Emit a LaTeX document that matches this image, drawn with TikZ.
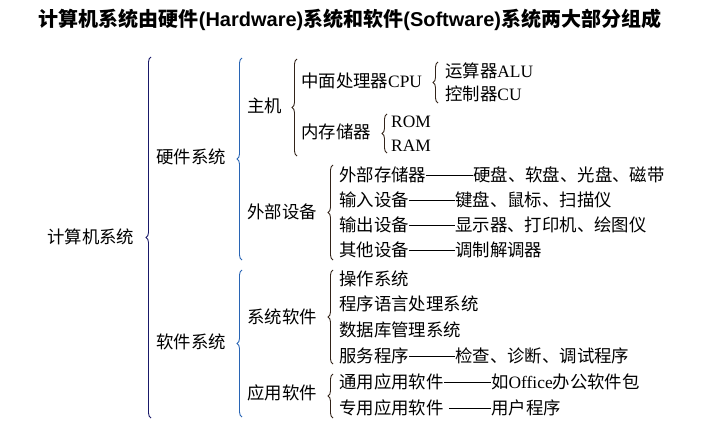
\documentclass[tikz,border=0pt]{standalone}
\usepackage{fontspec}
\setmainfont{Noto Sans CJK SC}
\newfontfamily\romfont{Liberation Serif}
\newfontfamily\headfont{Liberation Sans}
\usepackage{tikz}
\usetikzlibrary{decorations.pathreplacing}
\definecolor{navybrace}{RGB}{25,25,105}
\definecolor{bluebrace}{RGB}{40,100,180}
\definecolor{darkbrace}{RGB}{50,35,25}
\newcommand{\rom}[1]{{\romfont #1}}
\tikzset{
	lbl/.style={anchor=west,inner sep=0pt,font=\fontsize{17.4}{20}\selectfont},
	brc/.style={decorate,decoration={brace,amplitude=5pt},line width=0.9pt},
	dsh/.style={draw=black,line width=0.8pt}
}

\begin{document}
\begin{tikzpicture}[x=1pt,y=-1pt]
		\useasboundingbox (0,0) rectangle (712,436);
		
		\node[font=\fontsize{20}{24}\selectfont\bfseries] (title) at (350,20) {计算机系统由硬件{\headfont(Hardware)}系统和软件{\headfont(Software)}系统两大部分组成};
		
		\node[lbl] (root) at (47,237) {计算机系统};
		\node[lbl] (hw) at (156,157) {硬件系统};
		\node[lbl] (sw) at (156,342) {软件系统};
		
		\node[lbl] (host) at (247,106) {主机};
		\node[lbl] (ext) at (247,212) {外部设备};
		\node[lbl] (syssw) at (247,317) {系统软件};
		\node[lbl] (appsw) at (247,393) {应用软件};
		
		\node[lbl] (cpu) at (301,81) {中面处理器\rom{CPU}};
		\node[lbl] (mem) at (301,132) {内存储器};
		\node[lbl] (alu) at (445,71) {运算器\rom{ALU}};
		\node[lbl] (cu) at (445,94) {控制器\rom{CU}};
		\node[lbl] (rom) at (391,122) {\rom{ROM}};
		\node[lbl] (ram) at (391,146) {\rom{RAM}};
		
		\node[lbl] (extmem) at (339,175) {外部存储器};
		\node[lbl] (input) at (339,200) {输入设备};
		\node[lbl] (output) at (339,225) {输出设备};
		\node[lbl] (other) at (339,250) {其他设备};
		\node[lbl] (extmemx) at (473,175) {硬盘、软盘、光盘、磁带};
		\node[lbl] (inputx) at (455,200) {键盘、鼠标、扫描仪};
		\node[lbl] (outputx) at (455,225) {显示器、打印机、绘图仪};
		\node[lbl] (otherx) at (455,250) {调制解调器};
		
		\node[lbl] (os) at (339,279) {操作系统};
		\node[lbl] (lang) at (339,304) {程序语言处理系统};
		\node[lbl] (db) at (339,330) {数据库管理系统};
		\node[lbl] (svc) at (339,356) {服务程序};
		\node[lbl] (svcx) at (455,356) {检查、诊断、调试程序};
		
		\node[lbl] (gen) at (339,382) {通用应用软件};
		\node[lbl] (spec) at (339,408) {专用应用软件};
		\node[lbl] (genx) at (491,382) {如\rom{Office}办公软件包};
		\node[lbl] (specx) at (491,408) {用户程序};
		
		
		\draw[dsh] (extmem.east) -- (extmemx.west);
		\draw[dsh] (input.east) -- (inputx.west);
		\draw[dsh] (output.east) -- (outputx.west);
		\draw[dsh] (other.east) -- (otherx.west);
		\draw[dsh] (svc.east) -- (svcx.west);
		\draw[dsh] (gen.east) -- (genx.west);
		\draw[dsh] ([xshift=5pt]spec.east) -- (specx.west);
		
		
		\draw[brc,navybrace] (151,418) -- (151,57);
		
		\draw[brc,bluebrace] (242,260) -- (242,58);
		\draw[brc,bluebrace] (242,417) -- (242,270);
		
		\draw[brc,darkbrace] (297,156) -- (297,59);
		\draw[brc,darkbrace] (438,103) -- (438,62);
		\draw[brc,darkbrace] (387,153) -- (387,114);
		\draw[brc,darkbrace] (333,260) -- (333,165);
		\draw[brc,darkbrace] (333,364) -- (333,270);
		\draw[brc,darkbrace] (333,418) -- (333,374);
		
		\end{tikzpicture}
\end{document}
